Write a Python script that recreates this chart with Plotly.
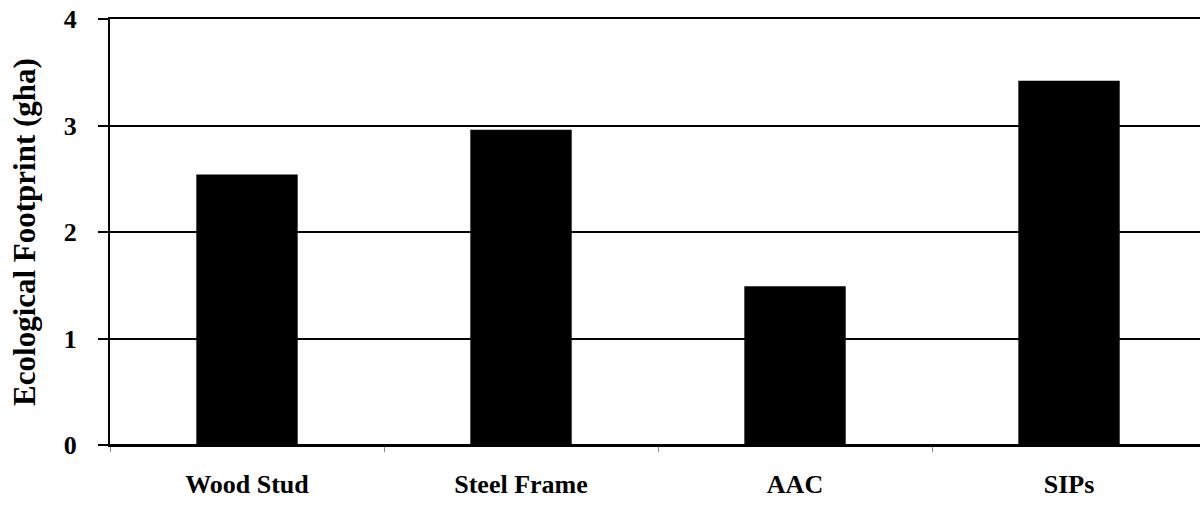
import plotly.graph_objects as go

categories = ["Wood Stud", "Steel Frame", "AAC", "SIPs"]
values = [2.54, 2.96, 1.49, 3.42]
y_ticks = [0, 1, 2, 3, 4]

font_family = "Liberation Serif, Times New Roman, serif"

fig = go.Figure(go.Bar(x=categories, y=values, marker=dict(color="black", line=dict(width=0)),
                       width=0.37))

fig.update_layout(
    width=1200, height=509,
    margin=dict(l=110, r=0, t=19, b=64),
    plot_bgcolor="white", paper_bgcolor="white",
    showlegend=False,
    font=dict(family=font_family, color="black"),
)
fig.update_xaxes(
    range=[-0.5, 3.478], automargin=False,
    showgrid=False, showline=True, mirror=True, linecolor="black", linewidth=2,
    zeroline=False,
    ticks="outside", tickson="boundaries", ticklen=5, tickcolor="#888", tickwidth=1,
    tickfont=dict(size=26, family=font_family, color="black", weight="bold"),
    ticklabelstandoff=15,
)
fig.update_yaxes(
    range=[0, 4], tickvals=y_ticks, automargin=False,
    showgrid=True, gridcolor="black", gridwidth=2,
    showline=True, linecolor="black", linewidth=2,
    zeroline=True, zerolinecolor="black", zerolinewidth=2,
    ticks="outside", ticklen=10, tickcolor="black", tickwidth=1.5,
    tickfont=dict(size=26, family=font_family, color="black", weight="bold"),
    ticklabelstandoff=16,
    title=dict(text="Ecological Footprint (gha)", standoff=19,
               font=dict(size=31, family=font_family, color="black", weight="bold")),
)
fig.write_html("out.html", config={"displayModeBar": False},
               post_script="document.body.style.margin='0px';")
